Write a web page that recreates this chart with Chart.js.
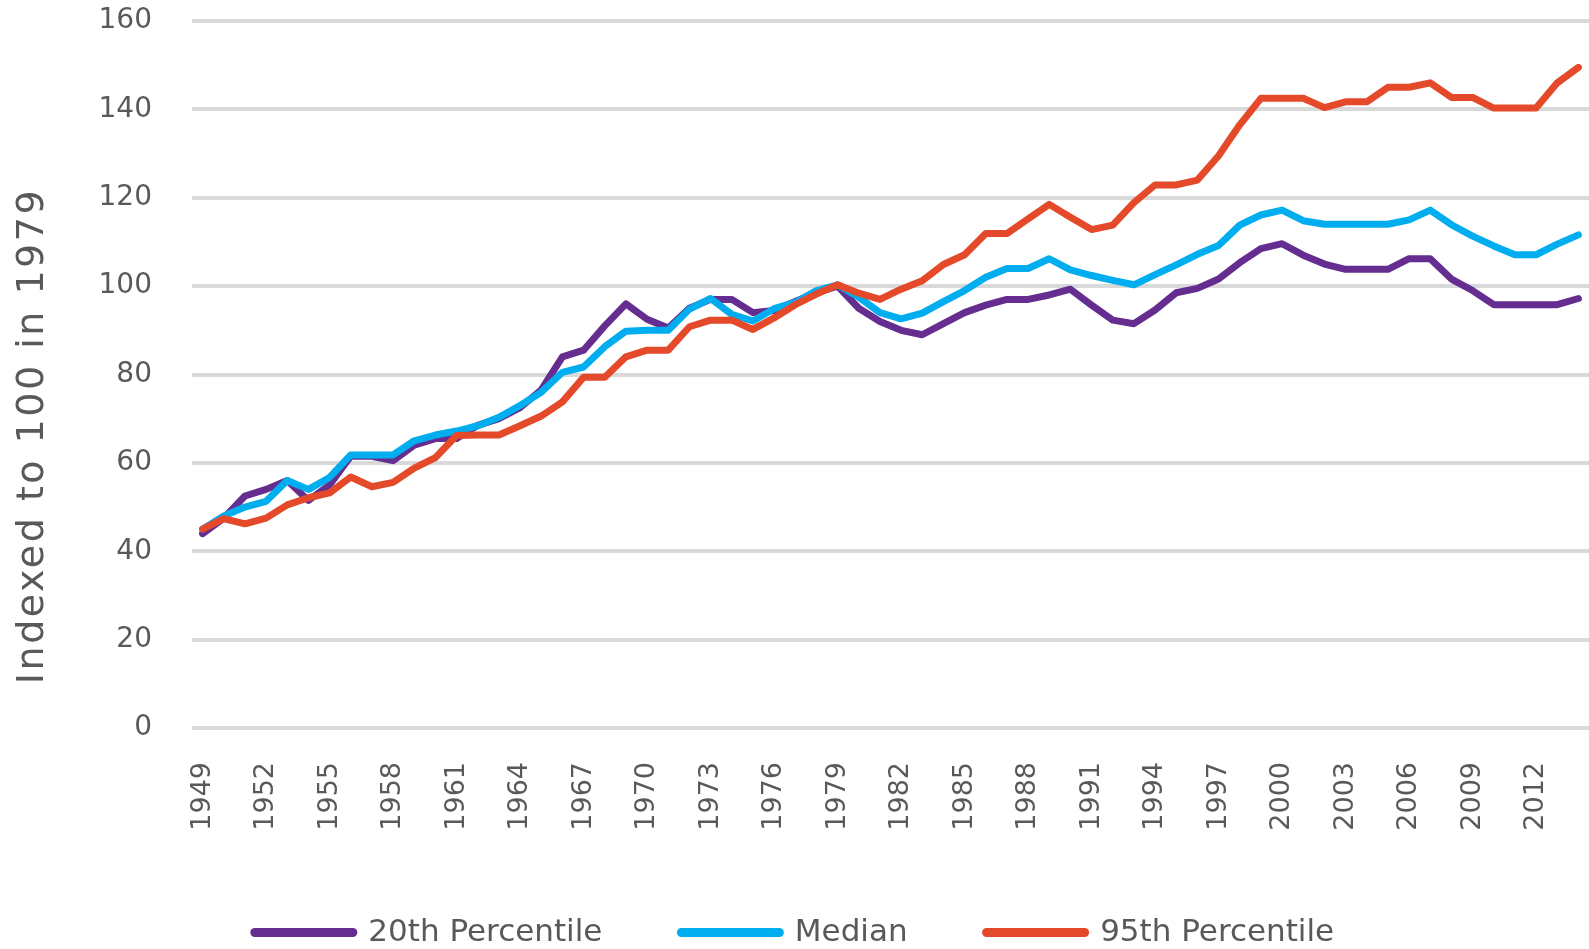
<!DOCTYPE html>
<html>
<head>
<meta charset="utf-8">
<script src="https://cdn.jsdelivr.net/npm/chart.js@4/dist/chart.umd.min.js"></script>
<style>
  html, body { margin: 0; padding: 0; background: #fff; }
  #wrap { width: 1589px; height: 949px; }
</style>
</head>
<body>
<div id="wrap"><canvas id="incomeChart" width="1589" height="949"></canvas></div>
<script>
// years 1949 - 2014
var years = [1949,1950,1951,1952,1953,1954,1955,1956,1957,1958,
  1959,1960,1961,1962,1963,1964,1965,1966,1967,1968,
  1969,1970,1971,1972,1973,1974,1975,1976,1977,1978,
  1979,1980,1981,1982,1983,1984,1985,1986,1987,1988,
  1989,1990,1991,1992,1993,1994,1995,1996,1997,1998,
  1999,2000,2001,2002,2003,2004,2005,2006,2007,2008,
  2009,2010,2011,2012,2013,2014];

var tickYears = [1949,1952,1955,1958,1961,1964,1967,1970,1973,1976,1979,
  1982,1985,1988,1991,1994,1997,2000,2003,2006,2009,2012];

var yTicks = [0,20,40,60,80,100,120,140,160];

var p20 = [44,47.5,52.5,54,56,51.5,55,61.5,61.5,60.5,
  64,65.5,65.5,68.5,70,72.5,76.5,84,85.5,91,
  96,92.5,90.5,95,97,97,94,94.5,96.5,98.5,
  100,95,92,90,89,91.5,94,95.7,97,97,
  98,99.3,95.7,92.3,91.5,94.6,98.5,99.5,101.6,105.3,
  108.5,109.6,107,105,103.8,103.8,103.8,106.2,106.2,101.6,
  99,95.8,95.8,95.8,95.8,97.2];

var median = [45,48,50,51.3,56,54,56.7,61.8,61.8,61.8,
  65,66.3,67.2,68.4,70.3,73,76,80.5,81.7,86.3,
  89.8,90,90,94.8,97.2,93.6,92.1,94.9,96.3,99,
  100.3,97.5,94,92.6,93.9,96.5,99,102,104,104,
  106.2,103.7,102.4,101.3,100.3,102.6,104.8,107.2,109.2,113.8,
  116.1,117.2,114.8,114,114,114,114,115,117.2,113.9,
  111.3,109.1,107.1,107.1,109.5,111.6];

var p95 = [45,47.4,46.2,47.5,50.5,52.1,53.2,56.8,54.6,55.6,
  58.8,61.2,66.2,66.3,66.3,68.4,70.6,73.8,79.4,79.4,
  84,85.5,85.5,90.8,92.3,92.3,90.2,92.8,95.8,98.2,
  100.3,98.4,97,99.3,101.2,104.9,107.1,111.9,111.9,115.2,
  118.5,115.6,112.8,113.8,118.9,122.9,122.9,124,129.5,136.5,
  142.5,142.5,142.5,140.4,141.7,141.7,145,145,146,142.7,
  142.7,140.3,140.3,140.3,146,149.5];

var seriesNames = ['20th Percentile', 'Median', '95th Percentile'];
var yTitle = 'Indexed to 100 in 1979';

var grey = '#595959';

// y axis title drawn by hand so it can sit a bit lower than the axis middle,
// legend nudged down a little
var extrasPlugin = {
  id: 'extras',
  afterLayout: function(chart) {
    if (chart.legend) {
      chart.legend.top += 9;
      chart.legend.bottom += 9;
    }
  },
  afterDraw: function(chart) {
    var ctx = chart.ctx;
    ctx.save();
    ctx.translate(33, 436);
    ctx.rotate(-Math.PI / 2);
    ctx.font = '38px "DejaVu Sans"';
    if ('letterSpacing' in ctx) ctx.letterSpacing = '2.5px';
    ctx.fillStyle = grey;
    ctx.textAlign = 'center';
    ctx.textBaseline = 'middle';
    ctx.fillText(yTitle, 0, 0);
    ctx.restore();
  }
};

function lineSet(label, data, color, order) {
  return {
    label: label,
    data: data,
    borderColor: color,
    backgroundColor: color,
    borderWidth: 7,
    borderJoinStyle: 'round',
    borderCapStyle: 'round',
    pointRadius: 0,
    tension: 0,
    fill: false,
    order: order
  };
}

new Chart(document.getElementById('incomeChart'), {
  type: 'line',
  data: {
    labels: years,
    datasets: [
      lineSet(seriesNames[0], p20, '#652D90', 2),
      lineSet(seriesNames[1], median, '#00AEEF', 1),
      lineSet(seriesNames[2], p95, '#E4492A', 0)
    ]
  },
  options: {
    responsive: false,
    animation: false,
    layout: { padding: { top: 21, right: 0, left: 0, bottom: 0 } },
    plugins: {
      tooltip: { enabled: false },
      legend: {
        position: 'bottom',
        labels: {
          usePointStyle: true,
          pointStyleWidth: 98,
          padding: 79,
          color: grey,
          font: { family: 'DejaVu Sans', size: 31 },
          sort: function(a, b) { return a.datasetIndex - b.datasetIndex; },
          generateLabels: function(chart) {
            var items = Chart.defaults.plugins.legend.labels.generateLabels(chart);
            items.forEach(function(it) {
              it.pointStyle = 'line';
              it.lineWidth = 9;
              it.lineCap = 'round';
            });
            return items;
          }
        }
      }
    },
    scales: {
      x: {
        offset: true,
        grid: { display: false, drawTicks: false },
        border: { display: false },
        afterFit: function(scale) {
          scale.height = 101;
          scale.paddingLeft = 0;
          scale.paddingRight = 0;
        },
        ticks: {
          autoSkip: false,
          minRotation: 90,
          maxRotation: 90,
          padding: 34,
          color: grey,
          font: { family: 'DejaVu Sans', size: 27 },
          callback: function(value, index) {
            var yr = years[index];
            return tickYears.indexOf(yr) >= 0 ? String(yr) : '';
          }
        }
      },
      y: {
        min: yTicks[0],
        max: yTicks[yTicks.length - 1],
        afterFit: function(scale) {
          scale.width = 192;
          scale.paddingTop = 0;
          scale.paddingBottom = 0;
        },
        grid: { color: '#d9d9d9', lineWidth: 4, drawTicks: false },
        border: { display: false },
        ticks: {
          stepSize: 20,
          padding: 40,
          color: grey,
          font: { family: 'DejaVu Sans', size: 28 }
        }
      }
    }
  },
  plugins: [extrasPlugin]
});
</script>
</body>
</html>
